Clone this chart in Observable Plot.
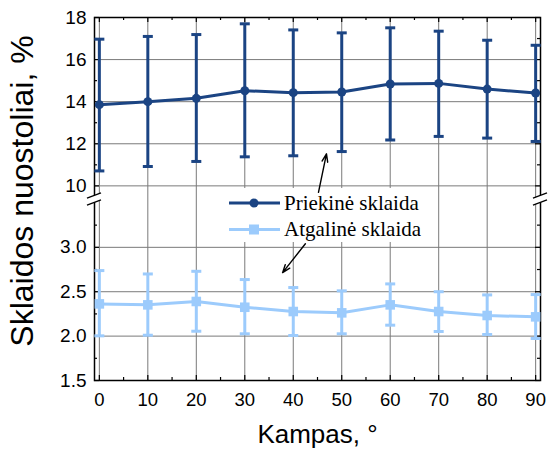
<!DOCTYPE html>
<html>
<head>
<meta charset="utf-8">
<script src="https://cdn.jsdelivr.net/npm/d3@7"></script>
<script src="https://cdn.jsdelivr.net/npm/@observablehq/plot@0.6"></script>
<style>
  body { margin: 0; background: #fff; }
  #chart svg { display: block; }
</style>
</head>
<body>
<div id="chart"></div>
<script>
// Scattering angle, degrees
const angles = [0, 10, 20, 30, 40, 50, 60, 70, 80, 90];

// Forward scattering losses, % (mean and error range)
const frontMean = [13.86, 14.0, 14.16, 14.52, 14.43, 14.46, 14.84, 14.87, 14.60, 14.41];
const frontLow  = [10.71, 10.92, 11.16, 11.38, 11.43, 11.63, 12.18, 12.35, 12.27, 12.11];
const frontHigh = [16.97, 17.10, 17.19, 17.70, 17.41, 17.27, 17.51, 17.35, 16.92, 16.68];

// Backward scattering losses, % (mean and error range)
const backMean = [2.363, 2.352, 2.39, 2.325, 2.277, 2.262, 2.352, 2.277, 2.232, 2.217];
const backLow  = [2.003, 2.01, 2.055, 2.026, 2.007, 2.026, 2.123, 2.052, 2.018, 1.973];
const backHigh = [2.738, 2.70, 2.73, 2.637, 2.547, 2.51, 2.588, 2.50, 2.464, 2.468];

const seriesNames = ["Priekinė sklaida", "Atgalinė sklaida"];
const seriesColors = ["#1b4483", "#9ccbfc"];

// Axis ticks (the y axis is broken between the two bands)
const xTicks = [0, 10, 20, 30, 40, 50, 60, 70, 80, 90];
const xMinorTicks = [5, 15, 25, 35, 45, 55, 65, 75, 85];
const yTicks = [1.5, 2.0, 2.5, 3.0, 10, 12, 14, 16, 18];
const yMinorTicks = [1.75, 2.25, 2.75, 3.25, 11, 13, 15, 17];
const lowerBandTop = 3.55;
const upperBandBottom = 9.4;

const xTitle = "Kampas, °";
const yTitle = "Sklaidos nuostoliai, %";

// Arrows from the legend entries to their curves
const arrows = [
  {x1: 45.2, y1: 9.69, x2: 46.85, y2: 11.52},
  {x1: 42.5, y1: 3.04, x2: 37.8, y2: 2.715}
];

const front = angles.map((a, i) => ({angle: a, mean: frontMean[i], lo: frontLow[i], hi: frontHigh[i]}));
const back = angles.map((a, i) => ({angle: a, mean: backMean[i], lo: backLow[i], hi: backHigh[i]}));

// Horizontal bar symbol used for error-bar caps
const capSymbol = {
  draw(context, size) {
    const w = Math.sqrt(size / Math.PI);
    context.moveTo(-w, 0);
    context.lineTo(w, 0);
  }
};

// Double-slash break marks on the left and right frame edges
function axisBreak(index, scales, values, dims) {
  const y = scales.y;
  const yb = (y(lowerBandTop) + y(upperBandBottom)) / 2 + 1;
  const g = d3.create("svg:g");
  for (const x0 of [dims.marginLeft, dims.width - dims.marginRight]) {
    const s = 2.7, off = 3.5, hw = 7;
    g.append("path")
      .attr("d", `M${x0 - hw},${yb - off + s} L${x0 + hw},${yb - off - s} L${x0 + hw},${yb + off - s} L${x0 - hw},${yb + off + s} Z`)
      .attr("fill", "white");
    for (const o of [-off, off]) {
      g.append("line")
        .attr("x1", x0 - hw).attr("y1", yb + o + s)
        .attr("x2", x0 + hw).attr("y2", yb + o - s)
        .attr("stroke", "black").attr("stroke-width", 1.3);
    }
  }
  return g.node();
}

// Legend box with line/marker samples
function legend() {
  const g = d3.create("svg:g");
  g.append("rect").attr("x", 220).attr("y", 188).attr("width", 205).attr("height", 54).attr("fill", "white");
  const rows = [{y: 203, base: 209.5}, {y: 229.5, base: 235.5}];
  rows.forEach((r, i) => {
    g.append("line").attr("x1", 229).attr("x2", 280).attr("y1", r.y).attr("y2", r.y)
      .attr("stroke", seriesColors[i]).attr("stroke-width", 3);
    if (i === 0) {
      g.append("circle").attr("cx", 254).attr("cy", r.y).attr("r", 4.5).attr("fill", seriesColors[i]);
    } else {
      g.append("rect").attr("x", 249).attr("y", r.y - 5).attr("width", 10).attr("height", 10).attr("fill", seriesColors[i]);
    }
    g.append("text").attr("x", 284).attr("y", r.base)
      .attr("text-anchor", "start")
      .attr("font-family", "'Liberation Serif', 'Times New Roman', serif")
      .attr("font-size", 21).attr("fill", "black")
      .text(seriesNames[i]);
  });
  return g.node();
}

const gridColor = "#7a7a7a";

const chart = Plot.plot({
  width: 548,
  height: 452,
  marginLeft: 94,
  marginRight: 8,
  marginTop: 17,
  marginBottom: 72,
  style: {fontFamily: "'Liberation Sans', Arial, sans-serif", fontSize: "18px", color: "black", background: "white"},
  x: {domain: [-1, 91]},
  y: {type: "linear", domain: [1.5, lowerBandTop, upperBandBottom, 18], range: [380, 198, 198, 17]},
  marks: [
    // grid
    Plot.ruleX(xTicks, {stroke: gridColor, strokeWidth: 1}),
    Plot.ruleY(yTicks, {stroke: gridColor, strokeWidth: 1}),
    // inward ticks on all four sides
    Plot.tickX(xTicks, {x: d => d, insetTop: 358, stroke: "black", strokeWidth: 1.2}),
    Plot.tickX(xMinorTicks, {x: d => d, insetTop: 360, stroke: "black", strokeWidth: 1.2}),
    Plot.tickX(xTicks, {x: d => d, insetBottom: 358, stroke: "black", strokeWidth: 1.2}),
    Plot.tickX(xMinorTicks, {x: d => d, insetBottom: 360, stroke: "black", strokeWidth: 1.2}),
    Plot.tickY(yTicks, {y: d => d, insetRight: 441, stroke: "black", strokeWidth: 1.2}),
    Plot.tickY(yMinorTicks, {y: d => d, insetRight: 443, stroke: "black", strokeWidth: 1.2}),
    Plot.tickY(yTicks, {y: d => d, insetLeft: 441, stroke: "black", strokeWidth: 1.2}),
    Plot.tickY(yMinorTicks, {y: d => d, insetLeft: 443, stroke: "black", strokeWidth: 1.2}),
    Plot.frame({stroke: "black", strokeWidth: 1.5}),
    // tick labels
    Plot.axisX(xTicks, {tickSize: 0, tickPadding: 12, label: null, fontSize: 18.5}),
    Plot.axisY(yTicks, {tickSize: 0, tickPadding: 8, label: null, fontSize: 19,
      tickFormat: d => d < 5 ? d.toFixed(1) : String(d)}),
    // forward scattering
    Plot.ruleX(front, {x: "angle", y1: "lo", y2: "hi", stroke: seriesColors[0], strokeWidth: 3}),
    Plot.dot(front, {x: "angle", y: "lo", symbol: capSymbol, r: 5, stroke: seriesColors[0], strokeWidth: 3, fill: "none"}),
    Plot.dot(front, {x: "angle", y: "hi", symbol: capSymbol, r: 5, stroke: seriesColors[0], strokeWidth: 3, fill: "none"}),
    Plot.line(front, {x: "angle", y: "mean", stroke: seriesColors[0], strokeWidth: 3}),
    Plot.dot(front, {x: "angle", y: "mean", r: 4.5, fill: seriesColors[0]}),
    // backward scattering
    Plot.ruleX(back, {x: "angle", y1: "lo", y2: "hi", stroke: seriesColors[1], strokeWidth: 3}),
    Plot.dot(back, {x: "angle", y: "lo", symbol: capSymbol, r: 5, stroke: seriesColors[1], strokeWidth: 3, fill: "none"}),
    Plot.dot(back, {x: "angle", y: "hi", symbol: capSymbol, r: 5, stroke: seriesColors[1], strokeWidth: 3, fill: "none"}),
    Plot.line(back, {x: "angle", y: "mean", stroke: seriesColors[1], strokeWidth: 3}),
    Plot.dot(back, {x: "angle", y: "mean", symbol: "square", r: 5.4, fill: seriesColors[1]}),
    // axis break, legend and pointers
    axisBreak,
    legend,
    Plot.arrow(arrows, {x1: "x1", y1: "y1", x2: "x2", y2: "y2", stroke: "black", strokeWidth: 1.4, headLength: 9, headAngle: 40}),
    // axis titles
    Plot.text([xTitle], {frameAnchor: "bottom", dy: 54, lineAnchor: "middle", textAnchor: "middle", fontSize: 26, fill: "black"}),
    Plot.text([yTitle], {frameAnchor: "left", dx: -72, dy: -8, rotate: -90, lineAnchor: "middle", textAnchor: "middle", fontSize: 32, fill: "black"})
  ]
});

document.getElementById("chart").appendChild(chart);
</script>
</body>
</html>
